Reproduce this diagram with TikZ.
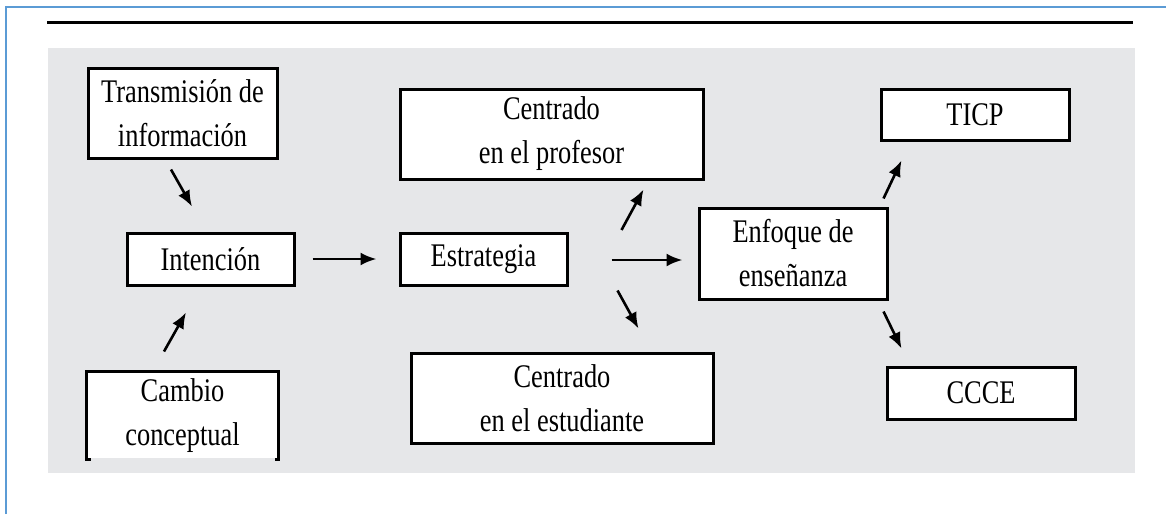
\documentclass[tikz,border=0pt]{standalone}
\usepackage{fontspec}
\setmainfont[FakeStretch=0.8]{Liberation Serif}
\usetikzlibrary{arrows.meta,calc}
\definecolor{frameblue}{RGB}{91,155,213}
\definecolor{panelgray}{RGB}{230,231,233}

\begin{document}
\begin{tikzpicture}[x=1pt,y=-1pt,line width=3pt,
  box/.style={draw,fill=white,align=center,inner sep=0pt,font=\fontsize{33}{44}\selectfont},
  open box/.style={box,draw=none},
  link/.style={-{Latex[length=16pt,width=13pt]},line width=2.6pt}]
\useasboundingbox (0,0) rectangle (1166,514);
% frame, rule and panel
\draw[frameblue,line width=1.5pt] (6,514) -- (6,7) -- (1166,7);
\draw[line width=3pt] (47,22) -- (1133,22);
\fill[panelgray] (48,48) rectangle (1135,473);
\begin{scope}
\node[box,minimum width=189pt,minimum height=90pt] (trans) at (182.5,113) {Transmisión de\\información};
\node[box,minimum width=167pt,minimum height=52pt] (inten) at (210.5,259) {Intención};
\node[open box,minimum width=189pt,minimum height=85pt] (cambio) at (182.5,415.5) {Cambio\\conceptual};
\node[box,minimum width=303pt,minimum height=90pt] (prof) at (551.5,134) {Centrado\\en el profesor};
\node[box,minimum width=167pt,minimum height=52pt] (estr) at (483.5,259) {Estrategia};
\node[box,minimum width=302pt,minimum height=90pt] (estud) at (562,398) {Centrado\\en el estudiante};
\node[box,minimum width=188pt,minimum height=91pt] (enf) at (793,253.5) {Enfoque de\\enseñanza};
\node[box,minimum width=188pt,minimum height=51pt] (ticp) at (975,114.5) {TICP};
\node[box,minimum width=188pt,minimum height=52pt] (ccce) at (981,393) {CCCE};
\end{scope}
% open bottom of the lower left box
\draw ($(cambio.south west)+(4,0)$) -- (cambio.south west) -- (cambio.north west)
  -- (cambio.north east) -- (cambio.south east) -- ++(-4,0);
\begin{scope}
\draw[link] ($(trans.south)+(-11.5,10)$) -- ($(inten.north)+(-18.5,-25)$);
\draw[link] ($(cambio.north)+(-18.5,-20)$) -- ($(inten.south)+(-24.5,26)$);
\draw[link,shorten <=17pt,shorten >=22pt] (inten) -- (estr);
\draw[link] ($(estr.east)+(53,-29)$) -- ($(prof.south east)+(-61,9)$);
\draw[link] ($(estr.east)+(43,1)$) -- ($(enf.west)+(-15,6.5)$);
\draw[link] ($(estr.south east)+(49,4)$) -- ($(estud.north east)+(-76,-23)$);
\draw[link] ($(enf.north east)+(-5,-8)$) -- ($(ticp.south west)+(22,19)$);
\draw[link] ($(enf.south east)+(-5,11)$) -- ($(ccce.north west)+(16,-17)$);
\end{scope}
\end{tikzpicture}
\end{document}
